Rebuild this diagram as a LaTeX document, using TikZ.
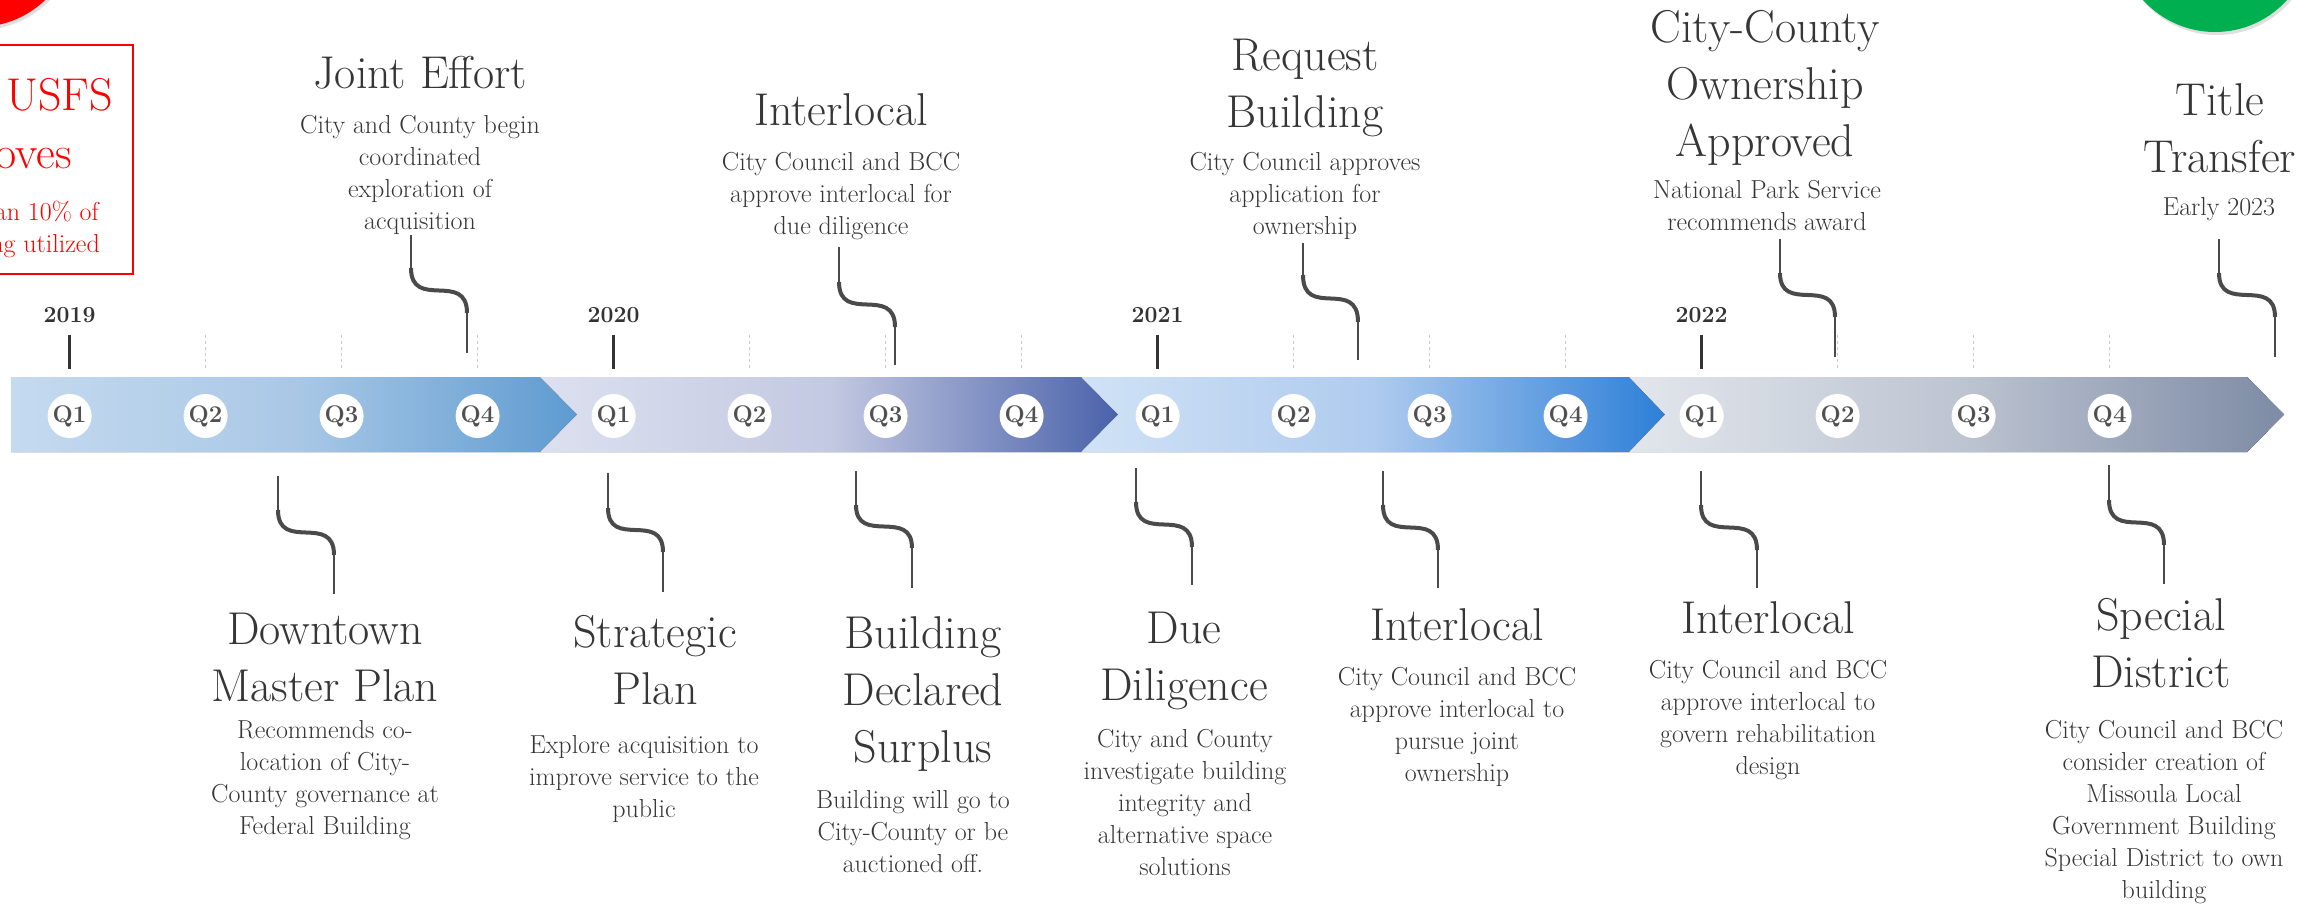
\documentclass[tikz,border=0pt]{standalone}
\usetikzlibrary{calc,shadows}
\definecolor{txt}{HTML}{363636}
\definecolor{conn}{HTML}{4A4A4A}
\definecolor{qtxt}{HTML}{505050}
\definecolor{yr}{HTML}{333333}
\definecolor{tickgray}{HTML}{C8C8C8}
\definecolor{redc}{HTML}{FF0000}
\definecolor{greenc}{HTML}{00B050}
\definecolor{aL}{HTML}{C4DAEF}\definecolor{aM}{HTML}{AAC8E6}\definecolor{aR}{HTML}{5E9BD1}
\definecolor{bL}{HTML}{DCE0F0}\definecolor{bM}{HTML}{C3C9E1}\definecolor{bR}{HTML}{4A62AA}
\definecolor{cL}{HTML}{D0E2F6}\definecolor{cM}{HTML}{AFCBEE}\definecolor{cR}{HTML}{2D7FD8}
\definecolor{dL}{HTML}{E2E6EC}\definecolor{dM}{HTML}{BEC5D2}\definecolor{dR}{HTML}{7D8BA5}
\newcommand\evconn[7]{%
  \coordinate (#1a) at (#2,#3);
  \coordinate (#1b) at (#2,#4);
  \coordinate (#1c) at (#5,#6);
  \coordinate (#1d) at (#5,#7);
  \draw[cline] (#1a) -- (#1b);
  \draw[cline] (#1c) -- (#1d);
  \draw[ccurve] (#1b) .. controls ($(#1b)!0.95!(#1b|-#1c)$) and ($(#1c)!0.95!(#1c|-#1b)$) .. (#1c);
}
\begin{document}
\begin{tikzpicture}[x=1pt,y=-1pt,
  ttl/.style={inner sep=0pt, anchor=north, align=center, text=txt, font=\fontsize{46}{57}\selectfont},
  dsc/.style={inner sep=0pt, anchor=north, align=center, text=txt, font=\fontsize{26}{32}\selectfont},
  qlab/.style={circle, fill=white, minimum size=44pt, inner sep=0pt, text=qtxt, font=\bfseries\fontsize{24}{24}\selectfont},
  yrlab/.style={anchor=base, inner sep=0pt, text=yr, font=\bfseries\fontsize{23}{23}\selectfont},
  yrtick/.style={draw=yr, line width=3pt},
  qtick/.style={draw=tickgray, line width=1pt, dash pattern=on 3pt off 3pt},
  cline/.style={draw=conn, line width=2.2pt},
  ccurve/.style={draw=conn, line width=4pt},
  redT/.style={inner sep=0pt, anchor=base east, text=redc, font=\fontsize{46}{57}\selectfont},
  redD/.style={inner sep=0pt, anchor=base east, text=redc, font=\fontsize{26}{32}\selectfont},
  dot/.style={drop shadow={shadow xshift=2pt, shadow yshift=-3pt, opacity=0.25}}
]
\useasboundingbox (0,0) rectangle (2323,907);
\fill[white] (0,0) rectangle (2323,907);
\clip (0,0) rectangle (2323,907);

% status dots
\fill[redc, dot] (-22,-70) circle[radius=97pt];
\fill[greenc, dot] (2215,-65) circle[radius=97pt];

% red box (cut off at the left)
\draw[redc, line width=2.5pt] (-10,45) rectangle (133,274);
\node[redT] (usfs) at (113,110) {USFS};
\node[redT] (appr) at (72,168) {Approves};
\node[redD] (less) at (99,220) {than 10\% of};
\node[redD] (bldg) at (100,252) {building utilized};

% band segments
\fill[left color=aL, right color=aR, middle color=aM]
  (11,377) -- (540,377) -- (577,414.5) -- (540,452) -- (11,452) -- cycle;
\fill[left color=bL, right color=bR, middle color=bM]
  (540,377) -- (1081,377) -- (1118,414.5) -- (1081,452) -- (540,452) -- (577,414.5) -- cycle;
\fill[left color=cL, right color=cR, middle color=cM]
  (1081,377) -- (1629,377) -- (1665,414.5) -- (1629,452) -- (1081,452) -- (1118,414.5) -- cycle;
\fill[left color=dL, right color=dR, middle color=dM]
  (1629,377) -- (2247,377) -- (2284,414.5) -- (2247,452) -- (1629,452) -- (1665,414.5) -- cycle;

% quarters and ticks
\foreach \k in {0,...,15}{
  \pgfmathsetmacro\xx{69.6+136*\k}
  \pgfmathtruncatemacro\qq{mod(\k,4)+1}
  \node[qlab] (q\k) at (\xx,416) {Q\qq};
  \ifnum\qq=1
    \draw[yrtick] (\xx,335) -- (\xx,369);
  \else
    \draw[qtick] (\xx,335) -- (\xx,369);
  \fi
}
\node[yrlab] (y2019) at (69.6,322) {2019};
\node[yrlab] (y2020) at (613.6,322) {2020};
\node[yrlab] (y2021) at (1157.6,322) {2021};
\node[yrlab] (y2022) at (1701.6,322) {2022};

% top events
\node[ttl] (jeT) at (420,48.1) {\strut Joint Effort};
\node[dsc] (jeD) at (420,110.6) {\strut City and County begin\\coordinated\\exploration of\\acquisition};
\node[ttl] (ilaT) at (841,85.1) {\strut Interlocal};
\node[dsc] (ilaD) at (841,147.6) {\strut City Council and BCC\\approve interlocal for\\due diligence};
\node[ttl] (rbT) at (1305,30.1) {\strut Request\\Building};
\node[dsc] (rbD) at (1305,147.6) {\strut City Council approves\\application for\\ownership};
\node[ttl] (ccT) at (1765,2.1) {\strut City-County\\Ownership\\Approved};
\node[dsc] (ccD) at (1767,175.6) {\strut National Park Service\\recommends award};
\node[ttl] (ttT) at (2220,75.1) {\strut Title\\Transfer};
\node[dsc] (ttD) at (2219,192.6) {\strut Early 2023};

% bottom events
\node[ttl] (dmpT) at (325,604.1) {\strut Downtown\\Master Plan};
\node[dsc] (dmpD) at (325,715.6) {\strut Recommends co-\\location of City-\\County governance at\\Federal Building};
\node[ttl] (spT) at (655,607.1) {\strut Strategic\\Plan};
\node[dsc] (spD) at (644,730.6) {\strut Explore acquisition to\\improve service to the\\public};
\node[ttl] (bdsT) at (923,608.1) {\strut Building\\Declared\\Surplus};
\node[dsc] (bdsD) at (913,785.6) {\strut Building will go to\\City-County or be\\auctioned off.};
\node[ttl] (ddT) at (1184,603.1) {\strut Due\\Diligence};
\node[dsc] (ddD) at (1185,724.6) {\strut City and County\\investigate building\\integrity and\\alternative space\\solutions};
\node[ttl] (ilbT) at (1457,600.1) {\strut Interlocal};
\node[dsc] (ilbD) at (1457,662.6) {\strut City Council and BCC\\approve interlocal to\\pursue joint\\ownership};
\node[ttl] (ilcT) at (1768,593.1) {\strut Interlocal};
\node[dsc] (ilcD) at (1768,655.6) {\strut City Council and BCC\\approve interlocal to\\govern rehabilitation\\design};
\node[ttl] (sdT) at (2161,590.1) {\strut Special\\District};
\node[dsc] (sdD) at (2164,715.6) {\strut City Council and BCC\\consider creation of\\Missoula Local\\Government Building\\Special District to own\\building};

% connectors
\evconn{je}{411}{235}{268}{467}{313}{353}
\evconn{ila}{839}{247}{282}{895}{327}{365}
\evconn{rb}{1303}{243}{275}{1358}{322}{360}
\evconn{cc}{1780}{239}{273}{1835}{317}{357}
\evconn{tt}{2219}{239}{273}{2275}{317}{357}
\evconn{dmp}{278}{476}{510}{334}{555}{594}
\evconn{sp}{608}{473}{508}{663}{552}{592}
\evconn{bds}{856}{471}{505}{912}{548}{588}
\evconn{dd}{1136}{468}{502}{1192}{547}{585}
\evconn{ilb}{1383}{471}{505}{1438}{550}{588}
\evconn{ilc}{1701}{471}{505}{1757}{550}{588}
\evconn{sd}{2109}{465}{500}{2164}{545}{584}
\end{tikzpicture}
\end{document}
